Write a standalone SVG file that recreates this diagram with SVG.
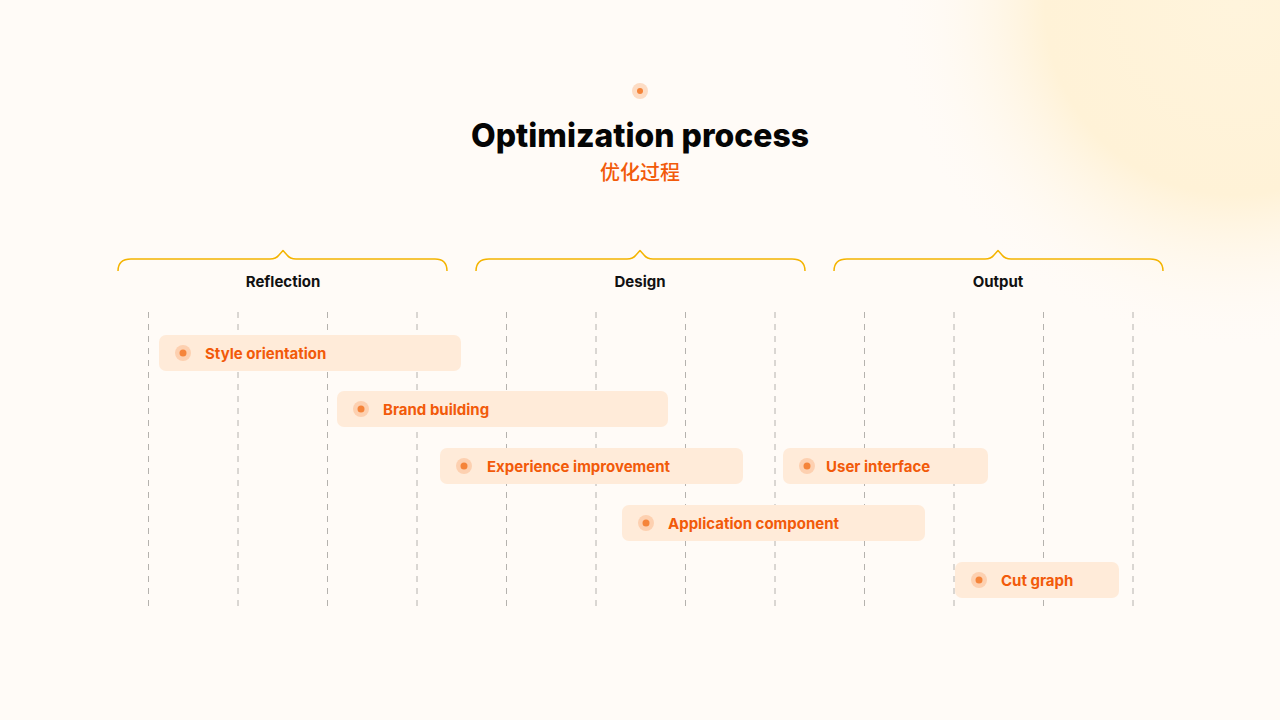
<svg xmlns="http://www.w3.org/2000/svg" width="1280" height="720" viewBox="0 0 1280 720">
<defs>
<radialGradient id="glow" cx="1235" cy="5" r="345" gradientUnits="userSpaceOnUse">
<stop offset="0" stop-color="#FFF4DC"/>
<stop offset="0.55" stop-color="#FFF2D7"/>
<stop offset="1" stop-color="#FFFBF7" stop-opacity="0"/>
</radialGradient>
<style>
.grid line{stroke:#B5B2AE;stroke-width:1;stroke-dasharray:6 6}
.brace{fill:none;stroke:#F4B400;stroke-width:1.5;stroke-linejoin:round}
.sec{font-family:Inter,"Liberation Sans",sans-serif;font-weight:700;font-size:15px;fill:#111;text-anchor:middle}
.bar{fill:#FFEBD9}
.ring{fill:#FDD0B0}
.core{fill:#F5843A}
.lbl{font-family:Inter,"Liberation Sans",sans-serif;font-weight:700;font-size:15px;fill:#F25A0A}
</style>
</defs>
<rect width="1280" height="720" fill="#FFFBF7"/>
<rect width="1280" height="720" fill="url(#glow)"/>
<g id="header">
<circle cx="640" cy="91" r="8" fill="#FDDCC4"/>
<circle cx="640" cy="91" r="3" fill="#F5843A"/>
<text x="640" y="147" font-family="Inter,'Liberation Sans',sans-serif" font-weight="800" font-size="33" fill="#050505" text-anchor="middle" textLength="338" lengthAdjust="spacingAndGlyphs">Optimization process</text>
<text x="640" y="180" font-family="'Noto Sans CJK SC',sans-serif" font-weight="500" font-size="20" fill="#F25A0A" text-anchor="middle">优化过程</text>
</g>
<g id="grid" class="grid">
<line x1="148.5" y1="312" x2="148.5" y2="606"/>
<line x1="238" y1="312" x2="238" y2="606"/>
<line x1="327.5" y1="312" x2="327.5" y2="606"/>
<line x1="417" y1="312" x2="417" y2="606"/>
<line x1="506.5" y1="312" x2="506.5" y2="606"/>
<line x1="596" y1="312" x2="596" y2="606"/>
<line x1="685.5" y1="312" x2="685.5" y2="606"/>
<line x1="775" y1="312" x2="775" y2="606"/>
<line x1="864.5" y1="312" x2="864.5" y2="606"/>
<line x1="954" y1="312" x2="954" y2="606"/>
<line x1="1043.5" y1="312" x2="1043.5" y2="606"/>
<line x1="1133" y1="312" x2="1133" y2="606"/>
</g>
<g id="sec-reflection">
<path class="brace" d="M118,271 Q118,259 131,259 L270,259 Q276,259 279,255 L283,250.5 L287,255 Q290,259 296,259 L435,259 Q447,259 447,271"/>
<text class="sec" x="283" y="287">Reflection</text>
</g>
<g id="sec-design">
<path class="brace" d="M476,271 Q476,259 489,259 L627,259 Q633,259 636,255 L640,250.5 L644,255 Q647,259 653,259 L792,259 Q805,259 805,271"/>
<text class="sec" x="640" y="287">Design</text>
</g>
<g id="sec-output">
<path class="brace" d="M834,271 Q834,259 847,259 L985,259 Q991,259 994,255 L998,250.5 L1002,255 Q1005,259 1011,259 L1150,259 Q1163,259 1163,271"/>
<text class="sec" x="998" y="287">Output</text>
</g>
<g id="task-style">
<rect class="bar" x="159" y="335" width="302" height="36" rx="7"/>
<circle class="ring" cx="183" cy="353" r="8"/><circle class="core" cx="183" cy="353" r="3.5"/>
<text class="lbl" x="205" y="358.5">Style orientation</text>
</g>
<g id="task-brand">
<rect class="bar" x="337" y="391" width="331" height="36" rx="7"/>
<circle class="ring" cx="361" cy="409" r="8"/><circle class="core" cx="361" cy="409" r="3.5"/>
<text class="lbl" x="383" y="414.5">Brand building</text>
</g>
<g id="task-experience">
<rect class="bar" x="440" y="448" width="303" height="36" rx="7"/>
<circle class="ring" cx="464" cy="466" r="8"/><circle class="core" cx="464" cy="466" r="3.5"/>
<text class="lbl" x="487" y="471.5">Experience improvement</text>
</g>
<g id="task-ui">
<rect class="bar" x="783" y="448" width="205" height="36" rx="7"/>
<circle class="ring" cx="807" cy="466" r="8"/><circle class="core" cx="807" cy="466" r="3.5"/>
<text class="lbl" x="826" y="471.5">User interface</text>
</g>
<g id="task-application">
<rect class="bar" x="622" y="505" width="303" height="36" rx="7"/>
<circle class="ring" cx="646" cy="523" r="8"/><circle class="core" cx="646" cy="523" r="3.5"/>
<text class="lbl" x="668" y="528.5">Application component</text>
</g>
<g id="task-cut">
<rect class="bar" x="955" y="562" width="164" height="36" rx="7"/>
<circle class="ring" cx="979" cy="580" r="8"/><circle class="core" cx="979" cy="580" r="3.5"/>
<text class="lbl" x="1001" y="585.5">Cut graph</text>
</g>
</svg>
